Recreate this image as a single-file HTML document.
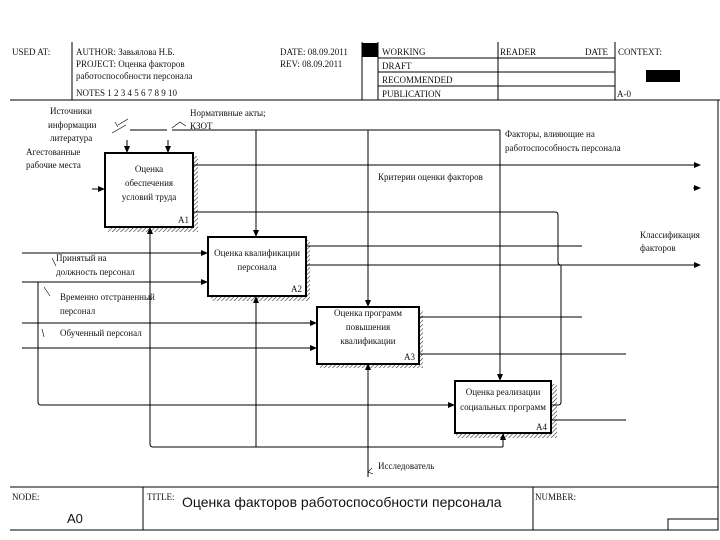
<!DOCTYPE html>
<html><head><meta charset="utf-8"><style>
html,body{margin:0;padding:0;background:#fff;}
svg{display:block;}
text{font-family:"Liberation Serif","DejaVu Serif",serif;font-size:9px;fill:#111;}
.s{font-family:"Liberation Sans","DejaVu Sans",sans-serif;}
</style></head><body>
<svg width="720" height="540" viewBox="0 0 720 540" xmlns="http://www.w3.org/2000/svg">
<defs>
<pattern id="h" width="3" height="3" patternUnits="userSpaceOnUse" patternTransform="rotate(45)"><rect width="3" height="3" fill="#fff"/><line x1="0" y1="0" x2="0" y2="3" stroke="#333" stroke-width="1.2"/></pattern>
<marker id="a" markerWidth="7" markerHeight="6" refX="6" refY="3" orient="auto" markerUnits="userSpaceOnUse"><path d="M0,0 L7,3 L0,6z" fill="#000"/></marker>
</defs>
<g stroke="#000" stroke-width="1" fill="none">
<!-- header -->
<line x1="10" y1="100" x2="720" y2="100"/>
<line x1="72" y1="42" x2="72" y2="100"/>
<line x1="378" y1="42" x2="378" y2="100"/>
<line x1="362" y1="42" x2="362" y2="100"/>
<line x1="498" y1="42" x2="498" y2="100"/>
<line x1="615" y1="42" x2="615" y2="100"/>
<line x1="378" y1="58" x2="615" y2="58"/>
<line x1="378" y1="72" x2="615" y2="72"/>
<line x1="378" y1="86" x2="615" y2="86"/>
<line x1="718" y1="100" x2="718" y2="530"/>
<!-- footer -->
<line x1="10" y1="487" x2="718" y2="487"/>
<line x1="10" y1="530" x2="718" y2="530"/>
<line x1="143" y1="487" x2="143" y2="530"/>
<line x1="533" y1="487" x2="533" y2="530"/>
<rect x="668" y="519" width="50" height="11"/>
</g>
<rect x="362" y="43" width="16" height="14" fill="#000"/>
<rect x="646" y="70" width="34" height="12" fill="#000"/>

<!-- shadows -->
<rect x="108" y="156" width="90" height="76" fill="url(#h)"/>
<rect x="211" y="240" width="99" height="61" fill="url(#h)"/>
<rect x="320" y="310" width="103" height="58" fill="url(#h)"/>
<rect x="456" y="384" width="101" height="54" fill="url(#h)"/>

<g stroke="#000" stroke-width="1" fill="none">
<!-- controls -->
<line x1="130" y1="130" x2="167" y2="130"/>
<line x1="172" y1="130" x2="500" y2="130"/>
<line x1="127" y1="140" x2="127" y2="152" marker-end="url(#a)"/>
<line x1="168" y1="140" x2="168" y2="152" marker-end="url(#a)"/>
<line x1="256" y1="130" x2="256" y2="236" marker-end="url(#a)"/>
<line x1="368" y1="130" x2="368" y2="306" marker-end="url(#a)"/>
<line x1="500" y1="130" x2="500" y2="380" marker-end="url(#a)"/>
<!-- inputs -->
<line x1="92" y1="189" x2="104" y2="189" marker-end="url(#a)"/>
<line x1="22" y1="253" x2="207" y2="253" marker-end="url(#a)"/>
<line x1="22" y1="282" x2="207" y2="282" marker-end="url(#a)"/>
<line x1="22" y1="323" x2="316" y2="323" marker-end="url(#a)"/>
<line x1="22" y1="348" x2="316" y2="348" marker-end="url(#a)"/>
<path d="M38 282 V402 Q38 405 41 405 H454" marker-end="url(#a)"/>
<!-- outputs -->
<line x1="193" y1="165" x2="700" y2="165" marker-end="url(#a)"/>
<line x1="693" y1="188" x2="700" y2="188" marker-end="url(#a)"/>
<path d="M193 212 H555 Q558 212 558 215 V262 Q558 265 561 265 H700" marker-end="url(#a)"/>
<line x1="306" y1="246" x2="582" y2="246"/>
<line x1="306" y1="265" x2="560" y2="265"/>
<line x1="419" y1="317" x2="582" y2="317"/>
<line x1="419" y1="354" x2="626" y2="354"/>
<line x1="551" y1="420" x2="626" y2="420"/>
<path d="M551 405 H558 Q561 405 561 402 V265"/>
<!-- mechanisms -->
<path d="M150 228 V444 Q150 447 153 447 H503"/>
<line x1="150" y1="240" x2="150" y2="228" marker-end="url(#a)"/>
<line x1="256" y1="447" x2="256" y2="297" marker-end="url(#a)"/>
<line x1="368" y1="477" x2="368" y2="364" marker-end="url(#a)"/>
<line x1="503" y1="447" x2="503" y2="434" marker-end="url(#a)"/>
<!-- squiggles -->
<path d="M118 125 L128 119 M112 133 L126 125 M115 122 L118 127" stroke-width="0.6"/>
<path d="M172 128 L180 122 L186 126" stroke-width="0.6"/>
<path d="M52 258 L56 266 M44 287 L50 296 M42 329 L44 337 M372 468 L368 472 L373 474" stroke-width="0.6"/>
</g>

<!-- boxes -->
<g fill="#fff" stroke="#000" stroke-width="2">
<rect x="105" y="153" width="88" height="74"/>
<rect x="208" y="237" width="98" height="59"/>
<rect x="317" y="307" width="102" height="57"/>
<rect x="455" y="381" width="96" height="52"/>
</g>

<!-- header text -->
<text x="12" y="55">USED AT:</text>
<text x="76" y="55">AUTHOR:  Завьялова Н.Б.</text>
<text x="76" y="67">PROJECT:  Оценка факторов</text>
<text x="76" y="79">работоспособности персонала</text>
<text x="76" y="96">NOTES  1  2 3  4 5 6 7  8  9 10</text>
<text x="280" y="55">DATE: 08.09.2011</text>
<text x="280" y="67">REV:    08.09.2011</text>
<text x="382" y="55">WORKING</text>
<text x="382" y="69">DRAFT</text>
<text x="382" y="83">RECOMMENDED</text>
<text x="382" y="97">PUBLICATION</text>
<text x="500" y="55">READER</text>
<text x="585" y="55">DATE</text>
<text x="618" y="55">CONTEXT:</text>
<text x="617" y="97">A-0</text>

<!-- labels -->
<text x="50" y="114">Источники</text>
<text x="48" y="128">информации</text>
<text x="50" y="141">литература</text>
<text x="26" y="155">Агестованные</text>
<text x="26" y="168">рабочие места</text>
<text x="190" y="116">Нормативные акты;</text>
<text x="190" y="129">КЗОТ</text>
<text x="505" y="137">Факторы, влияющие на</text>
<text x="505" y="151">работоспособность персонала</text>
<text x="378" y="180">Критерии оценки факторов</text>
<text x="640" y="238">Классификация</text>
<text x="640" y="251">факторов</text>
<text x="56" y="261">Принятый на</text>
<text x="56" y="275">должность персонал</text>
<text x="60" y="300">Временно отстраненный</text>
<text x="60" y="314">персонал</text>
<text x="60" y="336">Обученный персонал</text>
<text x="378" y="469">Исследователь</text>

<!-- box labels -->
<g text-anchor="middle">
<text x="149" y="172">Оценка</text>
<text x="149" y="186">обеспечения</text>
<text x="149" y="200">условий труда</text>
<text x="257" y="256">Оценка квалификации</text>
<text x="257" y="270">персонала</text>
<text x="368" y="316">Оценка программ</text>
<text x="368" y="330">повышения</text>
<text x="368" y="344">квалификации</text>
<text x="503" y="395">Оценка реализации</text>
<text x="503" y="410">социальных программ</text>
</g>
<text x="178" y="223">A1</text>
<text x="291" y="292">A2</text>
<text x="404" y="360">A3</text>
<text x="536" y="430">A4</text>

<!-- footer text -->
<text x="12" y="500">NODE:</text>
<text x="67" y="523" class="s" style="font-size:13px">A0</text>
<text x="147" y="500">TITLE:</text>
<text x="182" y="507" class="s" style="font-size:14px">Оценка факторов работоспособности персонала</text>
<text x="535" y="500">NUMBER:</text>
</svg>
</body></html>
